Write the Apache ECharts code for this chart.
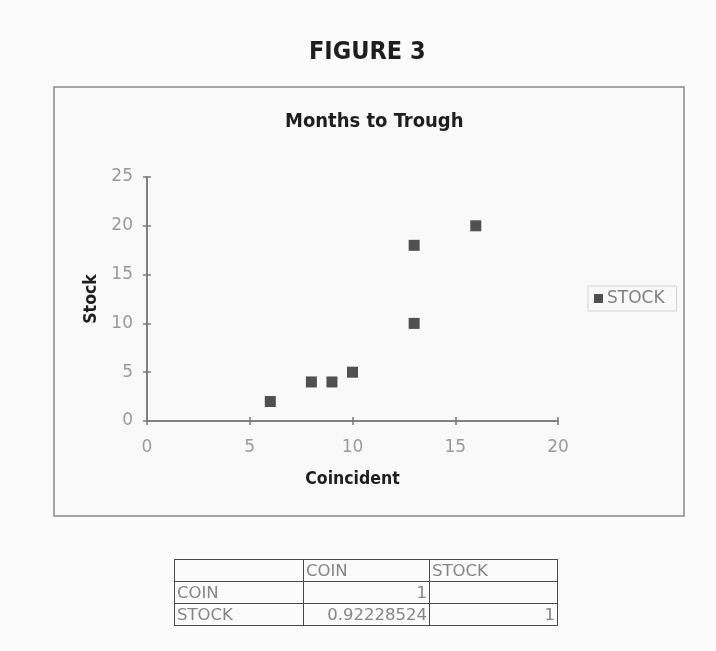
<!DOCTYPE html>
<html>
<head>
<meta charset="utf-8">
<script src="https://cdn.jsdelivr.net/npm/echarts@6/dist/echarts.min.js"></script>
<style>
  html, body { margin: 0; padding: 0; background: #fbfbfb; }
  #chart { position: absolute; left: 0; top: 0; width: 716px; height: 651px; }
  table.corr {
    position: absolute; left: 174px; top: 559px; border-collapse: collapse;
    font-family: "DejaVu Sans", sans-serif; font-size: 16.5px; color: #858585;
  }
  table.corr td {
    border: 1.5px solid #4a4a4a; height: 21px; padding: 0 2px;
    line-height: 21px; vertical-align: bottom; overflow: hidden;
  }
  table.corr td.num { text-align: right; }
</style>
</head>
<body>
<div id="chart"></div>
<table class="corr" id="corr"></table>
<script>
// Months to trough: coincident index vs. stock prices
const coincident = [6, 8, 9, 10, 13, 13, 16];
const stock      = [2, 4, 4, 5, 18, 10, 20];
const xTicks = [0, 5, 10, 15, 20];
const yTicks = [0, 5, 10, 15, 20, 25];

// correlation matrix shown under the chart
const corrHeader = ['', 'COIN', 'STOCK'];
const corrRows = [
  ['COIN', '1', ''],
  ['STOCK', '0.92228524', '1']
];

const points = coincident.map((x, i) => [x, stock[i]]);
const boldFont = '"DejaVu Sans Condensed", "Liberation Sans", sans-serif';
const tickFont = '"DejaVu Sans", "Liberation Sans", sans-serif';
const axisGray = '#7a7a7a';

const baseAxis = {
  axisLine: { show: true, lineStyle: { color: axisGray, width: 1.5 } },
  splitLine: { show: false }
};

const chart = echarts.init(document.getElementById('chart'), null, { renderer: 'canvas' });
chart.setOption({
  backgroundColor: '#fbfbfb',
  animation: false,
  title: [
    { text: 'FIGURE 3', left: 304, top: 35,
      textStyle: { fontFamily: boldFont, fontSize: 25, fontWeight: 'bold', color: '#1e1e1e' } },
    { text: 'Months to Trough', left: 280, top: 107,
      textStyle: { fontFamily: boldFont, fontSize: 20, fontWeight: 'bold', color: '#1e1e1e' } }
  ],
  graphic: [
    { type: 'rect', z: -1, shape: { x: 54, y: 87, width: 630, height: 429 },
      style: { fill: '#f9f9f9', stroke: '#8a8a8a', lineWidth: 1.5 } }
  ],
  legend: {
    left: 588, top: 286, orient: 'vertical',
    icon: 'rect', itemWidth: 9, itemHeight: 9, itemGap: 4,
    padding: [4, 12, 4, 6],
    borderColor: '#d2d2d2', borderWidth: 1,
    textStyle: { fontFamily: tickFont, fontSize: 17, color: '#808080', padding: [0, 0, 0, -1] },
    data: ['STOCK']
  },
  grid: { left: 147, right: 158, top: 177, bottom: 230 },
  xAxis: [
    Object.assign({}, baseAxis, {
      type: 'value', min: xTicks[0], max: xTicks[xTicks.length - 1], interval: 5,
      name: 'Coincident', nameLocation: 'middle', nameGap: 49,
      nameTextStyle: { fontFamily: boldFont, fontSize: 17.5, fontWeight: 'bold', color: '#1e1e1e' },
      axisTick: { show: true, length: 4, lineStyle: { color: axisGray, width: 1.5 } },
      axisLabel: { margin: 18, fontFamily: tickFont, fontSize: 17, color: '#9a9a9a' }
    }),
    Object.assign({}, baseAxis, {
      type: 'value', min: xTicks[0], max: xTicks[xTicks.length - 1], interval: 5,
      position: 'bottom', axisLabel: { show: false },
      axisTick: { show: true, inside: true, length: 4, lineStyle: { color: axisGray, width: 1.5 } }
    })
  ],
  yAxis: [
    Object.assign({}, baseAxis, {
      type: 'value', min: yTicks[0], max: yTicks[yTicks.length - 1], interval: 5,
      name: 'Stock', nameLocation: 'middle', nameGap: 47, nameRotate: 90,
      nameTextStyle: { fontFamily: boldFont, fontSize: 17.5, fontWeight: 'bold', color: '#1e1e1e' },
      axisTick: { show: true, length: 4, lineStyle: { color: axisGray, width: 1.5 } },
      axisLabel: { margin: 14, fontFamily: tickFont, fontSize: 17, color: '#9a9a9a' }
    }),
    Object.assign({}, baseAxis, {
      type: 'value', min: yTicks[0], max: yTicks[yTicks.length - 1], interval: 5,
      position: 'left', axisLabel: { show: false },
      axisTick: { show: true, inside: true, length: 4, lineStyle: { color: axisGray, width: 1.5 } }
    })
  ],
  series: [{
    name: 'STOCK', type: 'scatter', symbol: 'rect', symbolSize: 11,
    xAxisIndex: 0, yAxisIndex: 0,
    itemStyle: { color: '#262626' },
    data: points
  }]
});

// build the correlation table
const widths = [129, 126, 128];
const table = document.getElementById('corr');
[corrHeader].concat(corrRows).forEach((row, r) => {
  const tr = document.createElement('tr');
  row.forEach((cell, c) => {
    const td = document.createElement('td');
    td.textContent = cell;
    td.style.width = (widths[c] - 5) + 'px';
    if (r > 0 && c > 0) td.className = 'num';
    tr.appendChild(td);
  });
  table.appendChild(tr);
});
</script>
</body>
</html>
